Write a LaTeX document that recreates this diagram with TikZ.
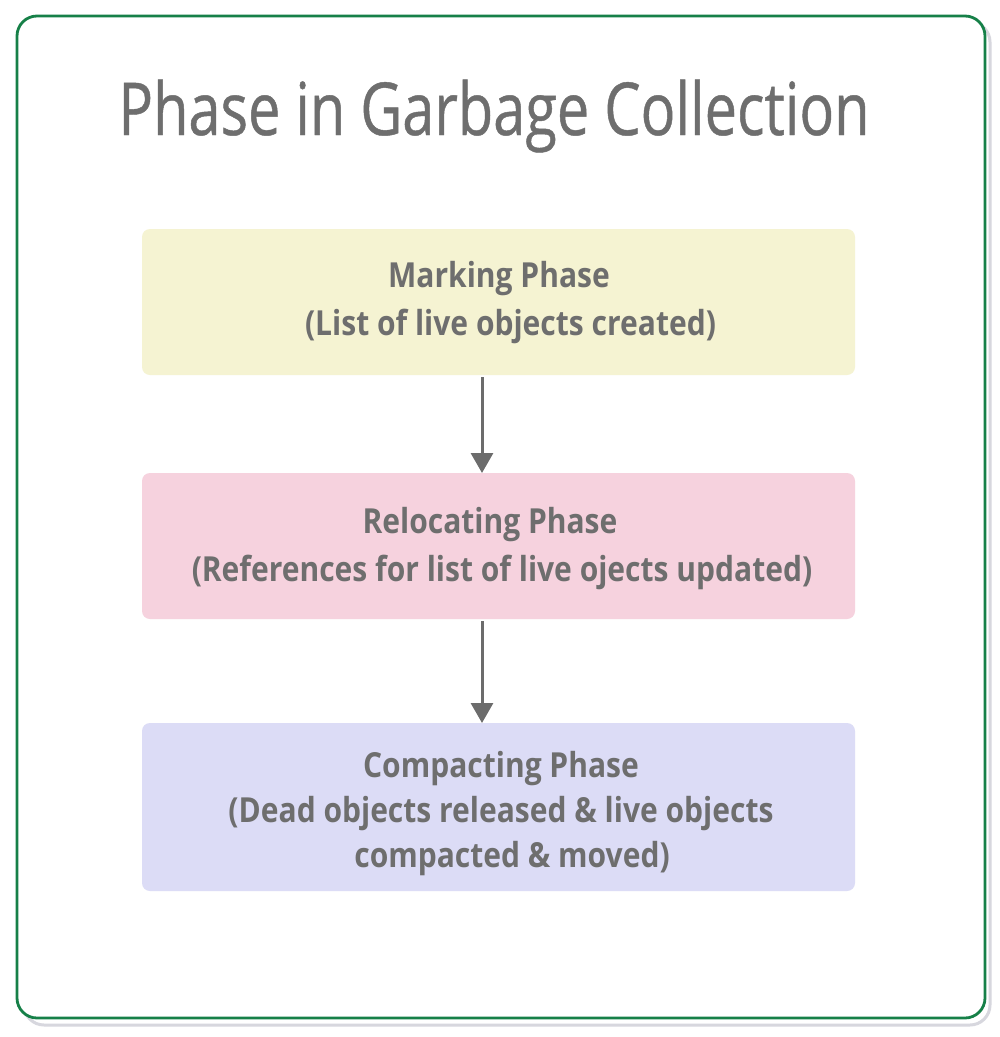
\documentclass[tikz,border=0pt]{standalone}
\usepackage{fontspec}
\setmainfont{Open Sans}
\newfontfamily\boxfont[FakeStretch=0.87]{Open Sans}
\newfontfamily\titlefont[FakeStretch=0.79,FakeBold=0.6]{Open Sans}
\usetikzlibrary{arrows.meta}
\definecolor{txtgray}{RGB}{110,110,110}
\definecolor{frgreen}{RGB}{22,128,72}
\definecolor{shgray}{RGB}{215,215,222}
\definecolor{fillA}{RGB}{245,243,210}
\definecolor{fillB}{RGB}{246,210,222}
\definecolor{fillC}{RGB}{220,220,246}
\definecolor{arrgray}{RGB}{108,108,108}
\tikzset{
  phasebox/.style={fill=#1, draw=none, rounded corners=8pt},
  phasetext/.style={text=txtgray, font=\boxfont\bfseries\fontsize{34.5}{48}\selectfont, align=center, inner sep=0pt, anchor=base},
  flow/.style={draw=arrgray, line width=3pt, -{Triangle[length=20pt,width=22pt]}}
}
\begin{document}
\begin{tikzpicture}[x=1pt,y=-1pt]
\useasboundingbox (0,0) rectangle (1000,1037);
\fill[white] (0,0) rectangle (1000,1037);
\draw[shgray, line width=3pt, rounded corners=20pt] (24,22) rectangle (990,1025);
\draw[frgreen, line width=2.8pt, rounded corners=20pt, fill=white] (17,16) rectangle (985,1018);
\node[text=txtgray, font=\titlefont\fontsize{73}{80}\selectfont, inner sep=0pt, anchor=base] (title) at (494,135) {Phase in Garbage Collection};
\path[phasebox=fillA] (142,229) rectangle (855,375);
\path[phasebox=fillB] (142,473) rectangle (855,619);
\path[phasebox=fillC] (142,723) rectangle (855,891);
\node[phasetext] (m) at (499,335) {Marking Phase\\\hspace*{23pt}(List of live objects created)};
\node[phasetext] (r) at (490,581) {Relocating Phase\\\hspace*{24pt}(References for list of live ojects updated)};
\node[phasetext, font=\boxfont\bfseries\fontsize{34.5}{45}\selectfont] (c) at (501,867) {Compacting Phase\\(Dead objects released \& live objects\hspace*{14pt}\\\hspace*{22pt}compacted \& moved)};
\coordinate (s1) at (482,377);
\coordinate (e1) at (482,473);
\coordinate (s2) at (482,621);
\coordinate (e2) at (482,723);
\draw[flow] (s1) -- (e1);
\draw[flow] (s2) -- (e2);
\end{tikzpicture}
\end{document}
